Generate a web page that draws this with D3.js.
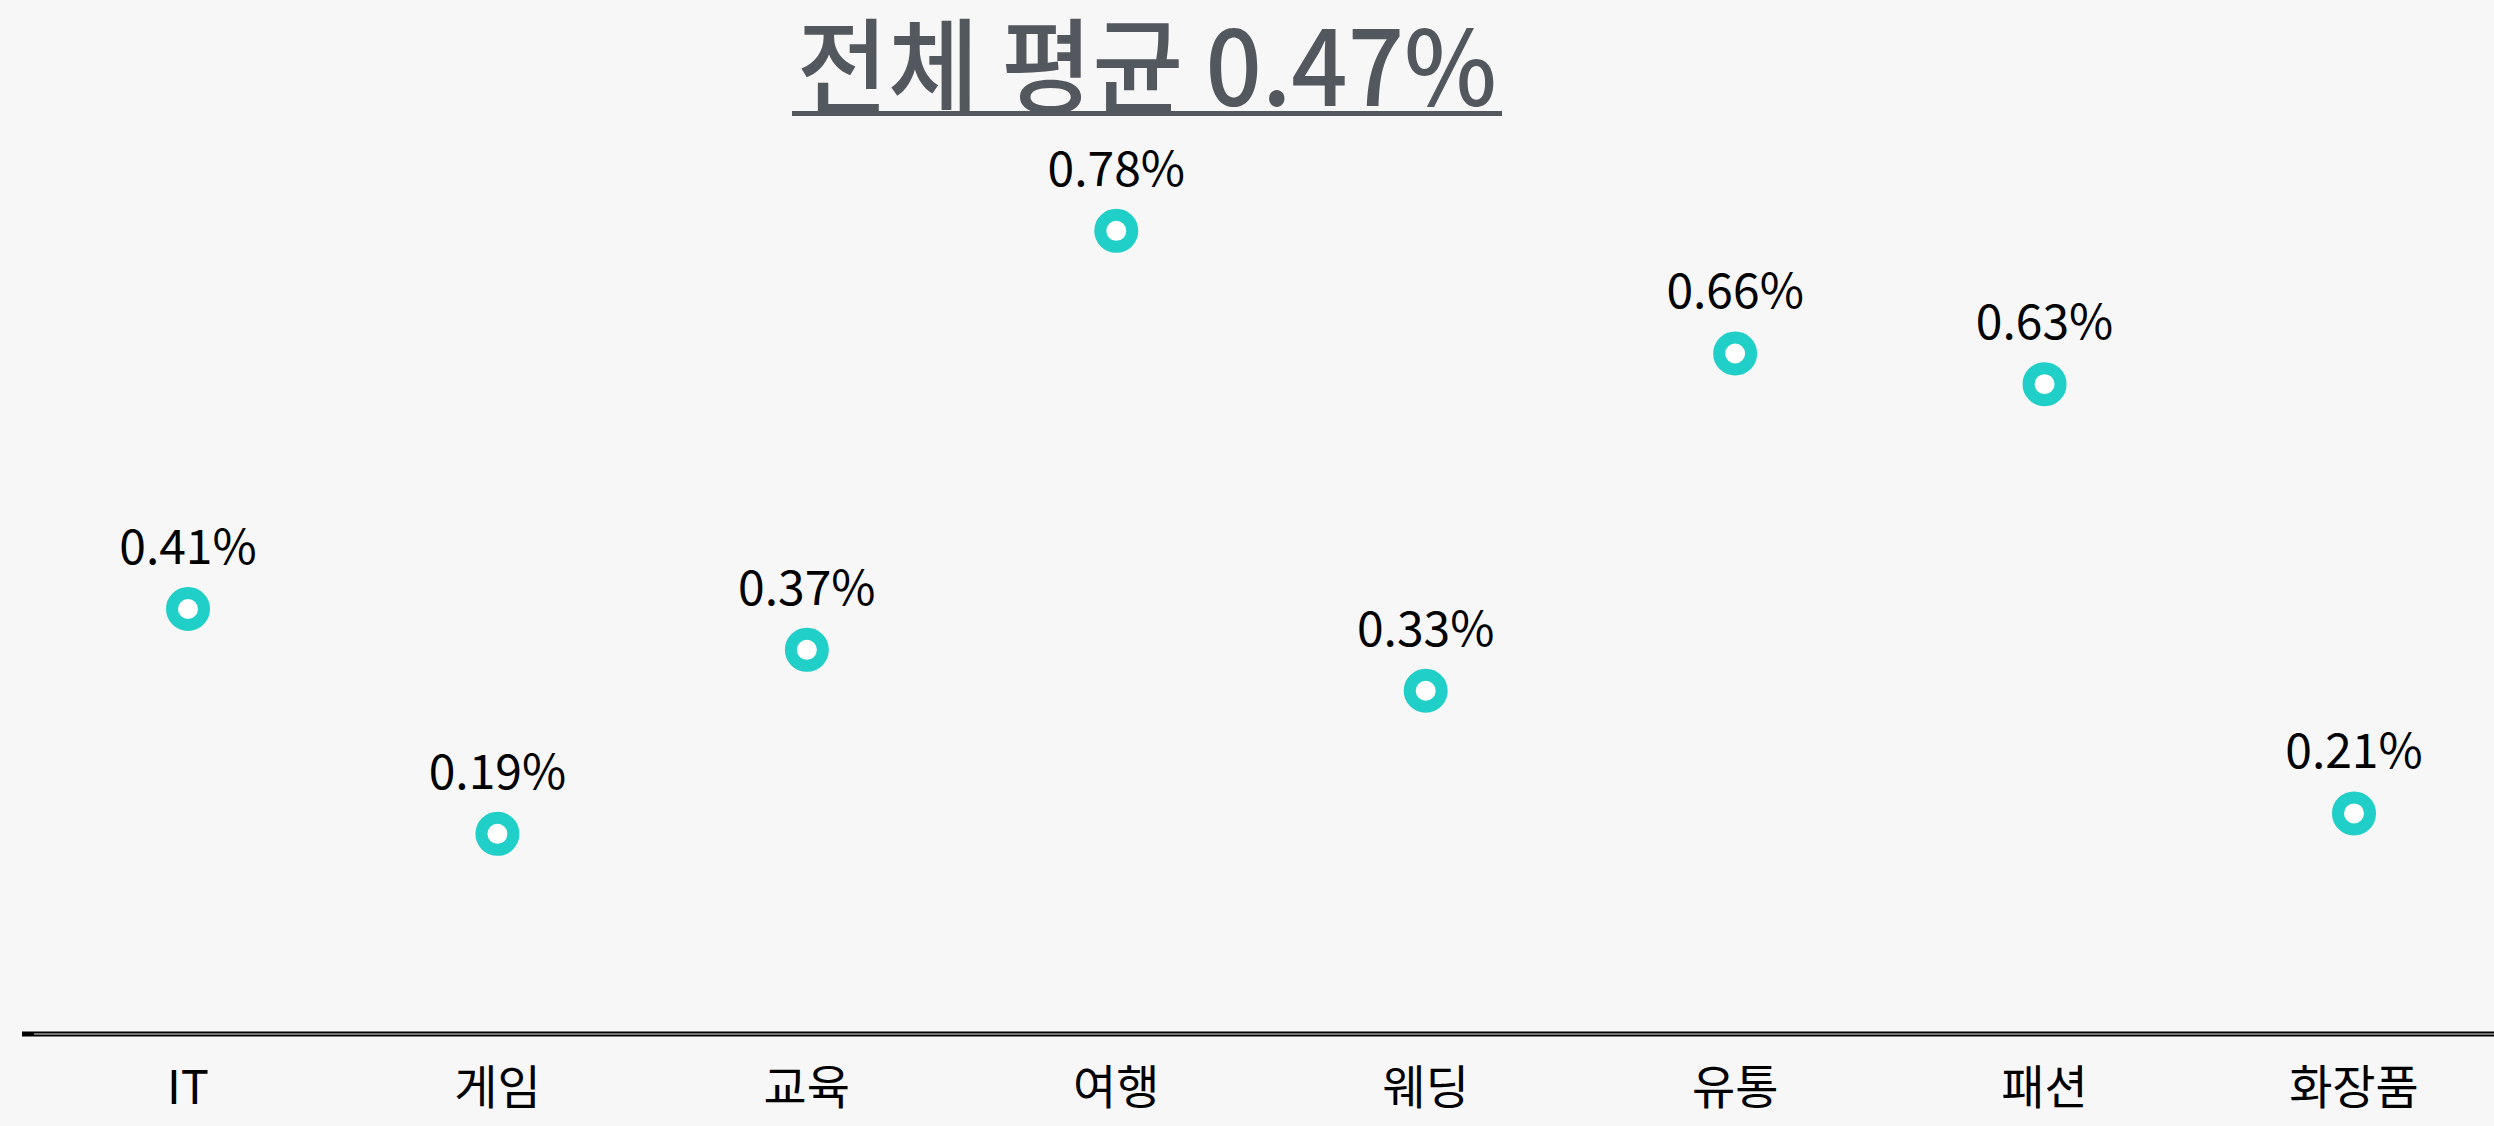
<!DOCTYPE html>
<html>
<head>
<meta charset="utf-8">
<script src="https://cdn.jsdelivr.net/npm/d3@7"></script>
<style>
  html, body { margin: 0; padding: 0; background: #f7f7f7; }
  #chart { width: 2494px; height: 1126px; }
  text { font-family: "Noto Sans CJK KR", "Noto Sans", sans-serif; }
</style>
</head>
<body>
<div id="chart"></div>
<script>
// chart data
const categories = ["IT", "게임", "교육", "여행", "웨딩", "유통", "패션", "화장품"];
const values = [0.41, 0.19, 0.37, 0.78, 0.33, 0.66, 0.63, 0.21];
const titleText = "전체 평균 0.47%";

const width = 2494;
const height = 1126;

const svg = d3.select("#chart")
    .append("svg")
    .attr("width", width)
    .attr("height", height);

svg.append("rect")
    .attr("width", width)
    .attr("height", height)
    .attr("fill", "#f7f7f7");

// scales
const x = d3.scalePoint()
    .domain(categories)
    .range([188, 2354]);

const y = d3.scaleLinear()
    .domain([0, 1])
    .range([1028, 6]);

// baseline axis
const axisY = 1034;
svg.append("line")
    .attr("x1", 22).attr("x2", width)
    .attr("y1", axisY).attr("y2", axisY)
    .attr("stroke", "#000")
    .attr("stroke-width", 5);
svg.append("line")
    .attr("x1", 34).attr("x2", width)
    .attr("y1", axisY).attr("y2", axisY)
    .attr("stroke", "#999")
    .attr("stroke-width", 1.6);

// category labels
svg.selectAll(".cat")
    .data(categories)
    .join("text")
    .attr("class", "cat")
    .attr("x", d => x(d))
    .attr("y", 1104)
    .attr("text-anchor", "middle")
    .attr("font-size", 47)
    .attr("fill", "#000")
    .text(d => d);

const data = categories.map((c, i) => ({ cat: c, value: values[i] }));

// markers
svg.selectAll(".dot")
    .data(data)
    .join("circle")
    .attr("class", "dot")
    .attr("cx", d => x(d.cat))
    .attr("cy", d => y(d.value))
    .attr("r", 16)
    .attr("fill", "#ffffff")
    .attr("stroke", "#20cfc7")
    .attr("stroke-width", 12);

// value labels
svg.selectAll(".val")
    .data(data)
    .join("text")
    .attr("class", "val")
    .attr("x", d => x(d.cat))
    .attr("y", d => y(d.value) - 45)
    .attr("text-anchor", "middle")
    .attr("font-size", 48)
    .attr("fill", "#000")
    .text(d => d.value.toFixed(2) + "%");

// title with underline
svg.append("text")
    .attr("x", 1147)
    .attr("y", 106)
    .attr("text-anchor", "middle")
    .attr("font-size", 104)
    .attr("font-weight", 500)
    .attr("fill", "#53575e")
    .attr("textLength", 700)
    .attr("lengthAdjust", "spacingAndGlyphs")
    .text(titleText);

svg.append("rect")
    .attr("x", 792)
    .attr("y", 111)
    .attr("width", 710)
    .attr("height", 5)
    .attr("fill", "#53575e");
</script>
</body>
</html>
